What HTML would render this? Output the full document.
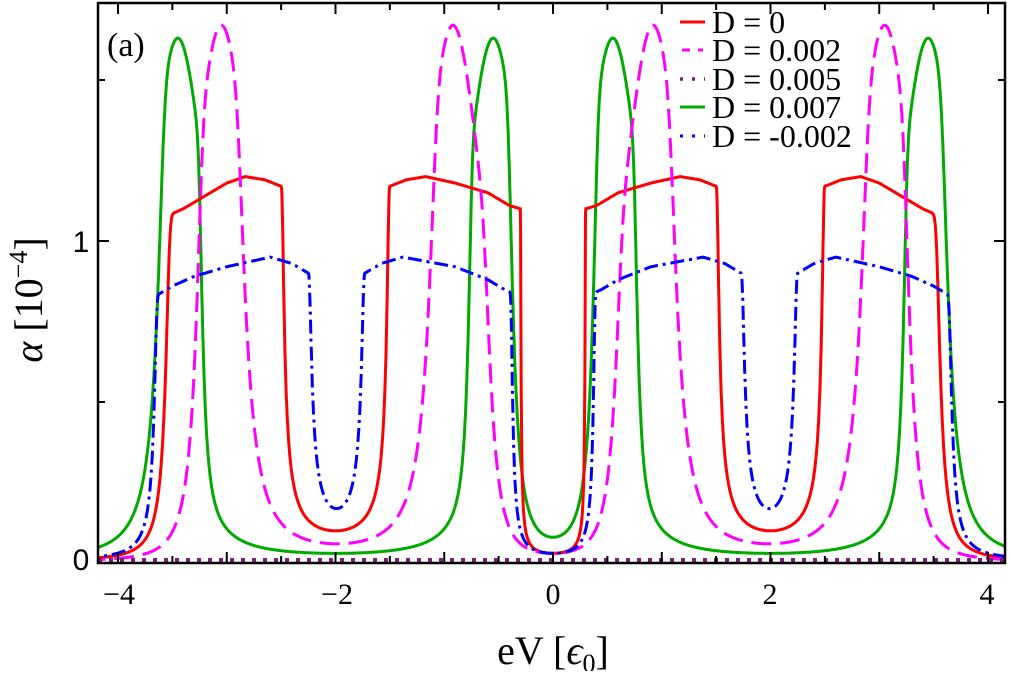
<!DOCTYPE html>
<html><head><meta charset="utf-8"><style>
body{margin:0;background:#fff;width:1009px;height:671px;overflow:hidden}
svg text{font-family:"Liberation Serif",serif;fill:#000}
.t{font-family:"Liberation Sans",sans-serif;font-size:30px}
</style></head><body>
<svg id="s" width="1009" height="671" xmlns="http://www.w3.org/2000/svg">
<defs><clipPath id="c"><rect x="98" y="3" width="907" height="560"/></clipPath></defs>
<g id="curves" clip-path="url(#c)"></g>
<rect x="98" y="3" width="907" height="560" fill="none" stroke="#000" stroke-width="2.5"/>
<g id="ticks" stroke="#000" stroke-width="2"></g>
<g class="t" text-anchor="middle">
<text x="119" y="604">−4</text><text x="337" y="604">−2</text><text x="553" y="604">0</text><text x="770" y="604">2</text><text x="987" y="604">4</text>
</g>
<text class="t" x="81" y="570" text-anchor="middle">0</text>
<text class="t" x="81" y="252" text-anchor="middle">1</text>
<text x="553" y="664" font-size="40" text-anchor="middle">eV [<tspan font-style="italic">ϵ</tspan><tspan font-size="26" dy="8">0</tspan><tspan dy="-8">]</tspan></text>
<text transform="translate(42,300) rotate(-90)" font-size="40" text-anchor="middle"><tspan font-style="italic">α</tspan> [10<tspan font-size="26" dy="-15">−4</tspan><tspan dy="15">]</tspan></text>
<text x="107" y="56" font-size="34">(a)</text>
<g font-size="32">
<line x1="680" x2="705" y1="22" y2="22" stroke="#f00" stroke-width="3"/><text x="712" y="33">D = 0</text>
<line x1="682" x2="703" y1="50" y2="50" stroke="#f0f" stroke-width="3" stroke-dasharray="8 8"/><text x="712" y="61">D = 0.002</text>
<line x1="680" x2="705" y1="79" y2="79" stroke="#7a1f7f" stroke-width="3.5" stroke-dasharray="3 9"/><text x="712" y="90">D = 0.005</text>
<line x1="680" x2="705" y1="107" y2="107" stroke="#0a0" stroke-width="3"/><text x="712" y="118">D = 0.007</text>
<line x1="680" x2="705" y1="136" y2="136" stroke="#00f" stroke-width="3" stroke-dasharray="3 9"/><text x="712" y="147">D = -0.002</text>
</g>
</svg>
<script>
const X=x=>553+x*108.75, Y=v=>563-v*322;
function interp(pts){const P=pts.concat(pts.map(([x,y])=>[-x,y])).sort((a,b)=>a[0]-b[0]);
 return x=>{if(x<=P[0][0])return P[0][1];for(let i=1;i<P.length;i++){if(x<=P[i][0]){const[a,ya]=P[i-1],[b,yb]=P[i];return ya+(yb-ya)*(x-a)/(b-a);}}return P[P.length-1][1];};}
function lor(cs,h,s){return x=>{let d=1e9;for(const c of cs)d=Math.min(d,Math.abs(x-c));return h/(1+(d/s)**2);};}
function symG(g){return g.concat(g.filter(q=>q[0]!==0).map(q=>[-q[0],...q.slice(1)]));}
function mk(H,gaps,p){return x=>{let v=Infinity;for(const[c,D,m,n,B=0,n2=8] of gaps){const u=(x-c)/D;if(Math.abs(u)<1){const w=1-u*u;v=Math.min(v,m/Math.pow(w,n)+B/Math.pow(w,n2));}}
 const h=H(x);if(!isFinite(v))return h;return Math.pow(Math.pow(v,-p)+Math.pow(h,-p),-1/p);};}
const red=mk(interp([[-3.6,1.07],[-3.4,1.1],[-3.2,1.14],[-3.0,1.18],[-2.83,1.2],[-2.65,1.19],[-2.5,1.17],[-1.5,1.17],[-1.35,1.19],[-1.17,1.2],[-0.9,1.18],[-0.6,1.15],[-0.4,1.11],[-0.2,1.09]]),
  symG([[-2.0,0.5,0.1,1],[0,0.3,0.03,1],[-4.67,1.2,0.011,2.14]]),2.5);
const mag=mk(lor([-3.05,-0.92,0.92,3.05],1.67,0.4),
  symG([[-1.985,1.065,0.06,2.75],[0,0.92,0.03,6.2],[-4.55,1.5,0.0085,3.62]]),3);
const grn=mk(lor([-3.45,-0.55,0.55,3.45],1.63,0.4),
  symG([[-2.0,1.45,0.03,1.9,2.4e-5,8],[0,0.55,0.08,4],[-4.95,1.5,0.0227,2.52]]),3);
const blu=mk(interp([[-3.75,0.81],[-3.5,0.86],[-3.3,0.89],[-3.0,0.92],[-2.6,0.95],[-2.4,0.93],[-2.2,0.89],[-1.78,0.89],[-1.58,0.93],[-1.38,0.95],[-0.9,0.92],[-0.6,0.88],[-0.45,0.85],[-0.2,0.81]]),
  symG([[-1.99,0.26,0.17,1],[0,0.4,0.03,1.5],[-4.82,1.2,0.012,1.5]]),2.5);
function path(f){let d="";for(let x=-4.3;x<=4.3;x+=0.003){d+=(d?"L":"M")+X(x).toFixed(1)+","+Y(f(x)).toFixed(1);}return d;}
const g=document.getElementById("curves");
function add(f,col,da){const p=document.createElementNS("http://www.w3.org/2000/svg","path");p.setAttribute("d",path(f));p.setAttribute("fill","none");p.setAttribute("stroke",col);p.setAttribute("stroke-width","3");if(da)p.setAttribute("stroke-dasharray",da);g.appendChild(p);}
add(grn,"#0a0");
add(red,"#f00");
add(mag,"#f0f","20 9");
add(blu,"#00f","14 5 3 5");
const dl=document.createElementNS("http://www.w3.org/2000/svg","line");
dl.setAttribute("x1",98);dl.setAttribute("x2",1005);dl.setAttribute("y1",560);dl.setAttribute("y2",560);dl.setAttribute("stroke","#7a1f7f");dl.setAttribute("stroke-width","4");dl.setAttribute("stroke-dasharray","4 7");g.appendChild(dl);
const tk=document.getElementById("ticks");let s="";
for(let v=-4;v<=4;v+=0.5){const x=X(v),L=Number.isInteger(v)?11:7;s+=`M${x},563v-${L}M${x},3v${L}`;}
for(let v=0;v<=1.5;v+=0.5){const y=Y(v),L=(v%1===0)?11:7;s+=`M98,${y}h${L}M1005,${y}h-${L}`;}
const tp=document.createElementNS("http://www.w3.org/2000/svg","path");tp.setAttribute("d",s);tk.appendChild(tp);
</script>
</body></html>
